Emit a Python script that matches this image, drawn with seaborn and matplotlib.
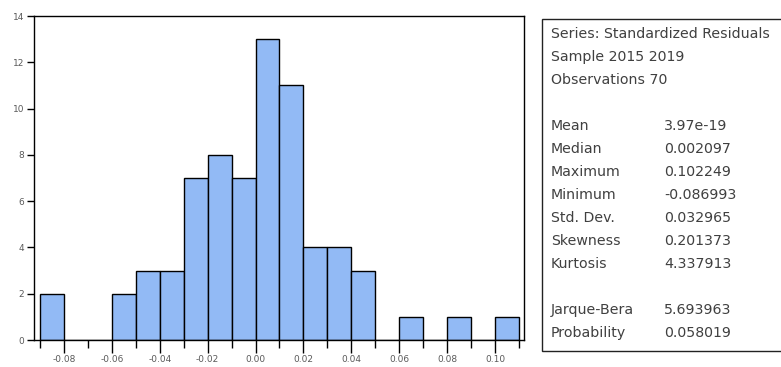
import numpy as np
import pandas as pd
import matplotlib
matplotlib.use("Agg")
import matplotlib.pyplot as plt
from matplotlib.patches import Rectangle
from matplotlib.ticker import FixedLocator
import seaborn as sns

# ---- data ----
bin_edges = [-0.09, -0.08, -0.07, -0.06, -0.05, -0.04, -0.03, -0.02, -0.01, 0.00,
             0.01, 0.02, 0.03, 0.04, 0.05, 0.06, 0.07, 0.08, 0.09, 0.10, 0.11]
counts = [2, 0, 0, 2, 3, 3, 7, 8, 7, 13, 11, 4, 4, 3, 0, 1, 0, 1, 0, 1]
x_major_ticks = [-0.08, -0.06, -0.04, -0.02, 0.00, 0.02, 0.04, 0.06, 0.08, 0.10]
x_minor_ticks = [-0.09, -0.07, -0.05, -0.03, -0.01, 0.01, 0.03, 0.05, 0.07, 0.09, 0.11]
y_ticks = [0, 2, 4, 6, 8, 10, 12, 14]

stat_labels = ["Series: Standardized Residuals", "Sample 2015 2019", "Observations 70", "",
               "Mean", "Median", "Maximum", "Minimum", "Std. Dev.", "Skewness", "Kurtosis", "",
               "Jarque-Bera", "Probability"]
stat_values = ["", "", "", "",
               "3.97e-19", "0.002097", "0.102249", "-0.086993", "0.032965", "0.201373", "4.337913", "",
               "5.693963", "0.058019"]

centers = [(a + b) / 2 for a, b in zip(bin_edges[:-1], bin_edges[1:])]
df = pd.DataFrame({"resid": centers, "n": counts})

sns.set_style("white")
plt.rcParams["font.family"] = ["DejaVu Sans"]

W, H = 781, 367
fig = plt.figure(figsize=(W / 100, H / 100), dpi=100)
ax = fig.add_axes([34 / W, 1 - 340 / H, (524 - 34) / W, (340 - 16) / H])

sns.histplot(data=df, x="resid", weights="n", bins=bin_edges, ax=ax,
             color="#92BAF5", alpha=1.0, edgecolor="black", linewidth=1.0)

ax.set_xlim(-0.0925, 0.1121)
ax.set_ylim(0, 14)
ax.set_xlabel("")
ax.set_ylabel("")

ax.xaxis.set_major_locator(FixedLocator(x_major_ticks))
ax.xaxis.set_minor_locator(FixedLocator(x_minor_ticks))
ax.set_xticklabels([f"{v:.2f}" for v in x_major_ticks])
ax.set_yticks(y_ticks)
ax.set_yticklabels([str(v) for v in y_ticks])

ax.tick_params(axis="x", which="major", direction="out", length=9, width=1.0,
               color="black", labelsize=6.5, labelcolor="#5a5a5a", pad=2, bottom=True)
ax.tick_params(axis="x", which="minor", direction="out", length=5.5, width=1.0,
               color="black", bottom=True)
ax.tick_params(axis="y", which="major", direction="out", length=5, width=1.0,
               color="black", labelsize=6.5, labelcolor="#5a5a5a", pad=2, left=True)

for s in ax.spines.values():
    s.set_color("black")
    s.set_linewidth(1.0)

# ---- statistics box ----
box = Rectangle((542 / W, 1 - 351 / H), (800 - 542) / W, (351 - 19) / H,
                transform=fig.transFigure, facecolor="white", edgecolor="#222222",
                linewidth=1.0, clip_on=False)
fig.patches.append(box)

y0 = 34
for i, (lab, val) in enumerate(zip(stat_labels, stat_values)):
    yy = 1 - (y0 + 23 * i) / H
    if lab:
        fig.text(551 / W, yy, lab, fontsize=10.2, color="#404040", va="center", ha="left")
    if val:
        fig.text(664 / W, yy, val, fontsize=10.2, color="#404040", va="center", ha="left")

fig.savefig("out.png", dpi=100)
